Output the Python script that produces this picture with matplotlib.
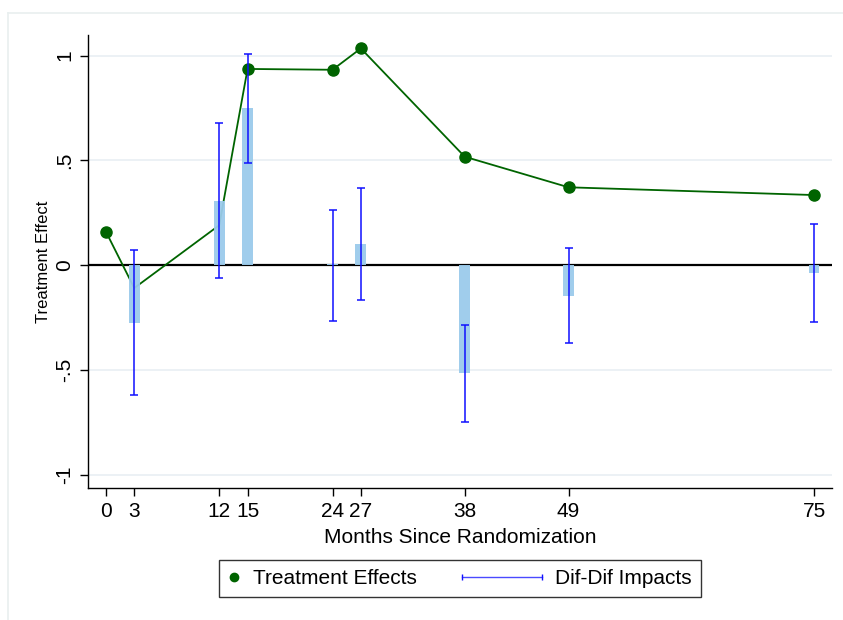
import numpy as np
import matplotlib.pyplot as plt
from matplotlib.lines import Line2D
from matplotlib.legend_handler import HandlerBase

plt.rcParams['font.family'] = ['Liberation Sans', 'DejaVu Sans']

# Survey waves (months since randomization)
months = [0, 3, 12, 15, 24, 27, 38, 49, 75]
month_labels = ['0', '3', '12', '15', '24', '27', '38', '49', '75']

# Treatment effect estimates
treat_effect = [0.159, -0.11, 0.19, 0.936, 0.932, 1.034, 0.517, 0.371, 0.334]
# waves where the marker is drawn (3 and 12 sit behind the bars)
marked = [0, 3, 4, 5, 6, 7, 8]

# Difference-in-differences impacts and their confidence bounds
did_months = [3, 12, 15, 24, 27, 38, 49, 75]
did_impact = [-0.275, 0.307, 0.748, 0.003, 0.101, -0.517, -0.147, -0.038]
did_upper = [0.070, 0.676, 1.009, 0.261, 0.369, -0.286, 0.080, 0.197]
did_lower = [-0.619, -0.062, 0.485, -0.267, -0.169, -0.748, -0.374, -0.274]

GREEN = '#006400'
BLUE = '#1010ff'


class MarkerHandler(HandlerBase):
    def create_artists(self, legend, orig_handle, xdescent, ydescent, width,
                       height, fontsize, trans):
        m = Line2D([width / 2 - xdescent], [height / 2 - ydescent], ls='none',
                   marker='o', markersize=6, color=GREEN, transform=trans)
        return [m]


class CappedLineHandler(HandlerBase):
    # horizontal line with end caps, reaching left past the handle box
    def create_artists(self, legend, orig_handle, xdescent, ydescent, width,
                       height, fontsize, trans):
        y = height / 2 - ydescent
        x0, x1 = width - xdescent - 57.5, width - xdescent
        line = Line2D([x0, x1], [y, y], color='#4a4aff', lw=1, transform=trans)
        caps = Line2D([x0, x1], [y, y], ls='none', marker='|', markersize=4.5,
                      mew=1, color=BLUE, transform=trans)
        return [line, caps]


fig = plt.figure(figsize=(8.43, 6.2), dpi=100)
ax = fig.add_axes([88 / 843, 1 - 487.7 / 620, (832 - 88) / 843, (487.7 - 35) / 620])

# light outer frame of the graph region
frame_color = '#e9efef'
fig.add_artist(Line2D([8 / 843, 1], [1 - 13 / 620] * 2, color=frame_color, lw=1.2))
fig.add_artist(Line2D([8 / 843] * 2, [0, 1 - 13 / 620], color=frame_color, lw=1.2))

yticks = [-1, -0.5, 0, 0.5, 1]
ytick_labels = ['-1', '-.5', '0', '.5', '1']
for y in [-1, -0.5, 0.5, 1]:
    ax.axhline(y, color='#eaf0f4', lw=1.3, zorder=0)
ax.axhline(0, color='black', lw=1.6, zorder=1)

# treatment effects line, partially hidden under the bars
ax.plot(months, treat_effect, color=GREEN, lw=1.3, marker='o', markersize=8,
        markevery=marked, zorder=2)

ax.bar(did_months, did_impact, width=1.15, color='#9bcbeb', alpha=0.95, zorder=3)

did_arr = np.array(did_impact)
yerr = [did_arr - np.array(did_lower), np.array(did_upper) - did_arr]
ax.errorbar(did_months, did_impact, yerr=yerr, fmt='none', ecolor=BLUE,
            elinewidth=1.1, capsize=2.6, capthick=1.1, zorder=4)

ax.set_xlim(-1.9, 76.9)
ax.set_ylim(-1.063, 1.098)
ax.set_xticks(months)
ax.set_xticklabels(month_labels, fontsize=15)
ax.set_yticks(yticks)
ax.set_yticklabels(ytick_labels, fontsize=15, rotation=90, va='center')
ax.tick_params(direction='out', length=6, width=1, pad=4)

ax.spines['top'].set_visible(False)
ax.spines['right'].set_visible(False)
ax.spines['left'].set_linewidth(1)
ax.spines['bottom'].set_linewidth(1)

ax.set_xlabel('Months Since Randomization', fontsize=15, labelpad=5)
ax.set_ylabel('Treatment Effect', fontsize=12, labelpad=3)

h_marker = Line2D([], [], color=GREEN, marker='o', ls='none')
h_ci = Line2D([], [], color=BLUE)
leg = fig.legend([h_marker, h_ci], ['Treatment Effects', 'Dif-Dif Impacts'],
                 handler_map={h_marker: MarkerHandler(), h_ci: CappedLineHandler()},
                 loc='center', bbox_to_anchor=(459.7 / 843, 1 - 578.7 / 620),
                 ncol=2, fontsize=15, frameon=True, fancybox=False,
                 edgecolor='black', handlelength=0.6, handletextpad=0.63,
                 columnspacing=5.4, borderpad=0.42, borderaxespad=0)
leg.get_frame().set_linewidth(1)

fig.savefig('out.png', dpi=100)
